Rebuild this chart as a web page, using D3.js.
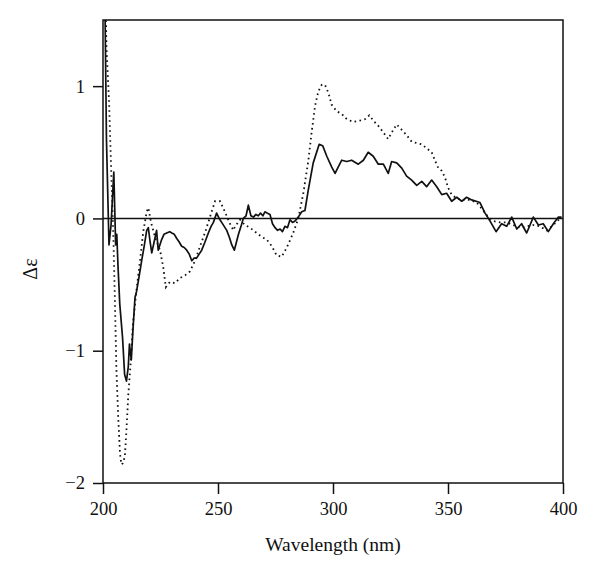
<!DOCTYPE html>
<html>
<head>
<meta charset="utf-8">
<script src="https://cdn.jsdelivr.net/npm/d3@7"></script>
<style>
  body { margin: 0; background: #fff; }
  text { font-family: "Liberation Serif", "DejaVu Serif", serif; fill: #111; }
</style>
</head>
<body>
<div id="chart"></div>
<script>
// solid trace
const solidWl = [200.8, 201.5, 202.6, 203.5, 204.7, 205.5, 206.0, 206.5, 207.3, 208.5, 209.4, 210.2, 211.0, 211.5, 212.3, 213.0, 213.9, 214.6, 215.6, 216.8,
  218.0, 219.0, 219.7, 220.5, 221.2, 222.2, 223.3, 224.0, 225.5, 226.5, 227.7, 229.0, 229.9, 231.0, 232.0, 233.2, 234.2, 235.3, 236.4, 237.5,
  238.6, 239.6, 240.7, 241.8, 242.9, 244.3, 245.8, 247.0, 248.0, 249.4, 250.5, 251.6, 252.7, 253.8, 254.9, 256.0, 257.1, 258.0, 258.9, 260.0,
  261.0, 262.2, 263.2, 264.3, 265.4, 266.5, 267.5, 268.5, 269.5, 270.4, 271.5, 272.6, 273.7, 274.8, 275.9, 277.0, 278.0, 279.1, 280.2, 281.3,
  282.4, 283.5, 284.9, 286.4, 287.8, 289.3, 291.4, 294.0, 295.5, 297.3, 299.4, 300.9, 302.3, 303.8, 306.0, 308.1, 311.0, 313.2, 315.3, 317.5,
  319.7, 321.9, 324.0, 325.5, 327.7, 329.9, 332.0, 334.2, 336.4, 338.6, 340.7, 342.9, 345.1, 347.3, 349.4, 351.6, 353.8, 356.0, 358.1, 360.3,
  363.9, 366.1, 368.3, 370.9, 373.3, 375.5, 377.7, 379.9, 382.0, 384.2, 387.1, 389.3, 391.4, 393.6, 395.8, 398.0, 399.4];
const solidDe = [1.7, 0.6, -0.2, -0.05, 0.35, -0.2, -0.12, -0.35, -0.65, -0.9, -1.18, -1.23, -1.12, -0.95, -1.07, -0.85, -0.6, -0.55, -0.45, -0.32,
  -0.2, -0.09, -0.07, -0.18, -0.26, -0.18, -0.09, -0.24, -0.16, -0.12, -0.11, -0.1, -0.11, -0.12, -0.15, -0.18, -0.21, -0.22, -0.24, -0.27,
  -0.32, -0.3, -0.3, -0.27, -0.24, -0.18, -0.11, -0.06, -0.03, 0.04, 0.0, -0.03, -0.06, -0.09, -0.14, -0.2, -0.24, -0.18, -0.12, -0.06,
  0.0, 0.02, 0.1, 0.02, 0.01, 0.03, 0.02, 0.04, 0.02, 0.05, 0.04, 0.03, -0.04, -0.07, -0.09, -0.08, -0.1, -0.06, -0.07, -0.01,
  -0.03, -0.02, 0.01, 0.05, 0.06, 0.22, 0.42, 0.56, 0.55, 0.47, 0.39, 0.34, 0.39, 0.44, 0.43, 0.44, 0.41, 0.44, 0.5, 0.47,
  0.41, 0.41, 0.34, 0.43, 0.42, 0.38, 0.32, 0.29, 0.25, 0.28, 0.24, 0.29, 0.24, 0.18, 0.19, 0.13, 0.16, 0.13, 0.16, 0.14,
  0.12, 0.04, -0.02, -0.1, -0.04, -0.06, 0.01, -0.08, -0.04, -0.11, 0.01, -0.05, -0.04, -0.1, -0.04, 0.01, 0.01];

// dotted trace
const dottedWl = [200.9, 201.5, 202.6, 203.5, 204.0, 204.6, 205.2, 205.8, 206.6, 207.4, 208.0, 208.7, 209.5, 210.2, 211.0, 212.0, 213.0, 214.7, 216.1, 217.5,
  219.0, 219.7, 220.9, 222.6, 224.8, 226.2, 227.3, 229.1, 231.3, 233.5, 235.7, 237.8, 240.0, 242.2, 244.3, 246.5, 248.7, 250.9, 253.0, 255.2,
  256.7, 257.4, 259.6, 261.7, 263.9, 266.1, 269.0, 271.2, 273.4, 275.5, 277.7, 279.9, 282.7, 284.9, 287.1, 289.3, 290.7, 292.2, 293.6, 295.1,
  296.5, 298.0, 299.4, 301.6, 303.8, 306.0, 308.8, 311.7, 313.9, 315.8, 317.5, 319.7, 321.9, 324.0, 326.2, 327.7, 329.9, 332.0, 334.2, 336.4,
  338.6, 340.7, 342.9, 344.3, 345.8, 347.3, 348.7, 350.1, 351.6, 353.8, 356.7, 359.6, 362.5, 365.3, 367.5, 369.7, 372.6, 375.5, 378.4, 381.3,
  384.2, 387.1, 390.0, 392.9, 395.8, 398.7];
const dottedDe = [1.8, 1.3, 0.9, 0.4, 0.14, -0.2, -0.64, -1.13, -1.5, -1.78, -1.86, -1.85, -1.8, -1.6, -1.33, -1.1, -0.8, -0.52, -0.32, -0.1,
  0.05, 0.08, -0.03, -0.14, -0.24, -0.37, -0.52, -0.48, -0.49, -0.45, -0.43, -0.4, -0.32, -0.21, -0.11, 0.01, 0.13, 0.13, 0.05, -0.04,
  -0.09, -0.06, -0.01, -0.05, -0.07, -0.1, -0.14, -0.16, -0.21, -0.28, -0.29, -0.22, -0.11, 0.0, 0.19, 0.44, 0.65, 0.85, 0.96, 1.01,
  1.01, 0.95, 0.86, 0.81, 0.79, 0.75, 0.73, 0.74, 0.75, 0.78, 0.74, 0.7, 0.65, 0.6, 0.67, 0.71, 0.67, 0.63, 0.58, 0.57,
  0.56, 0.53, 0.5, 0.44, 0.38, 0.36, 0.31, 0.23, 0.18, 0.15, 0.14, 0.14, 0.12, 0.06, 0.01, -0.02, -0.03, -0.03, -0.05, -0.07,
  -0.06, -0.05, -0.06, -0.09, -0.05, 0.0];

const xTicks = [200, 250, 300, 350, 400];
const yTicks = [-2, -1, 0, 1];

const width = 600, height = 576;
const plotLeft = 103, plotRight = 563, plotTop = 20, plotBottom = 483;

const svg = d3.select('#chart').append('svg')
  .attr('width', width)
  .attr('height', height);

const x = d3.scaleLinear().domain([200, 400]).range([plotLeft, plotRight]);
const y = d3.scaleLinear().domain([-2, 1.5]).range([plotBottom, plotTop]);

svg.append('clipPath').attr('id', 'plot-clip')
  .append('rect')
  .attr('x', plotLeft).attr('y', plotTop)
  .attr('width', plotRight - plotLeft).attr('height', plotBottom - plotTop);

// zero line
svg.append('line')
  .attr('x1', plotLeft).attr('x2', plotRight)
  .attr('y1', y(0)).attr('y2', y(0))
  .attr('stroke', '#111').attr('stroke-width', 1.4);

const line = d3.line().x(d => x(d[0])).y(d => y(d[1]));
const plot = svg.append('g').attr('clip-path', 'url(#plot-clip)');

plot.append('path')
  .datum(dottedWl.map((w, i) => [w, dottedDe[i]]))
  .attr('d', line)
  .attr('fill', 'none')
  .attr('stroke', '#111')
  .attr('stroke-width', 1.8)
  .attr('stroke-dasharray', '1.6 3.4');

plot.append('path')
  .datum(solidWl.map((w, i) => [w, solidDe[i]]))
  .attr('d', line)
  .attr('fill', 'none')
  .attr('stroke', '#111')
  .attr('stroke-width', 1.7)
  .attr('stroke-linejoin', 'round');

// frame
svg.append('rect')
  .attr('x', plotLeft).attr('y', plotTop)
  .attr('width', plotRight - plotLeft).attr('height', plotBottom - plotTop)
  .attr('fill', 'none').attr('stroke', '#111').attr('stroke-width', 1.5);

const xAxis = svg.append('g')
  .attr('transform', `translate(0,${plotBottom})`)
  .call(d3.axisBottom(x).tickValues(xTicks).tickSize(11).tickPadding(8).tickFormat(d3.format('d')));

const yAxis = svg.append('g')
  .attr('transform', `translate(${plotLeft},0)`)
  .call(d3.axisLeft(y).tickValues(yTicks).tickSize(10).tickPadding(8).tickFormat(d3.format('d')));

[xAxis, yAxis].forEach(g => {
  g.select('.domain').remove();
  g.selectAll('.tick line').attr('stroke', '#111').attr('stroke-width', 1.5);
  g.selectAll('.tick text')
    .attr('font-family', '"Liberation Serif", "DejaVu Serif", serif')
    .attr('font-size', 18.5)
    .attr('fill', '#111');
});

svg.append('text')
  .attr('x', (plotLeft + plotRight) / 2)
  .attr('y', 551)
  .attr('text-anchor', 'middle')
  .attr('font-size', 19.5)
  .text('Wavelength (nm)');

svg.append('text')
  .attr('transform', 'translate(37,269) rotate(-90)')
  .attr('text-anchor', 'middle')
  .attr('font-size', 20)
  .text('Δε');
</script>
</body>
</html>
